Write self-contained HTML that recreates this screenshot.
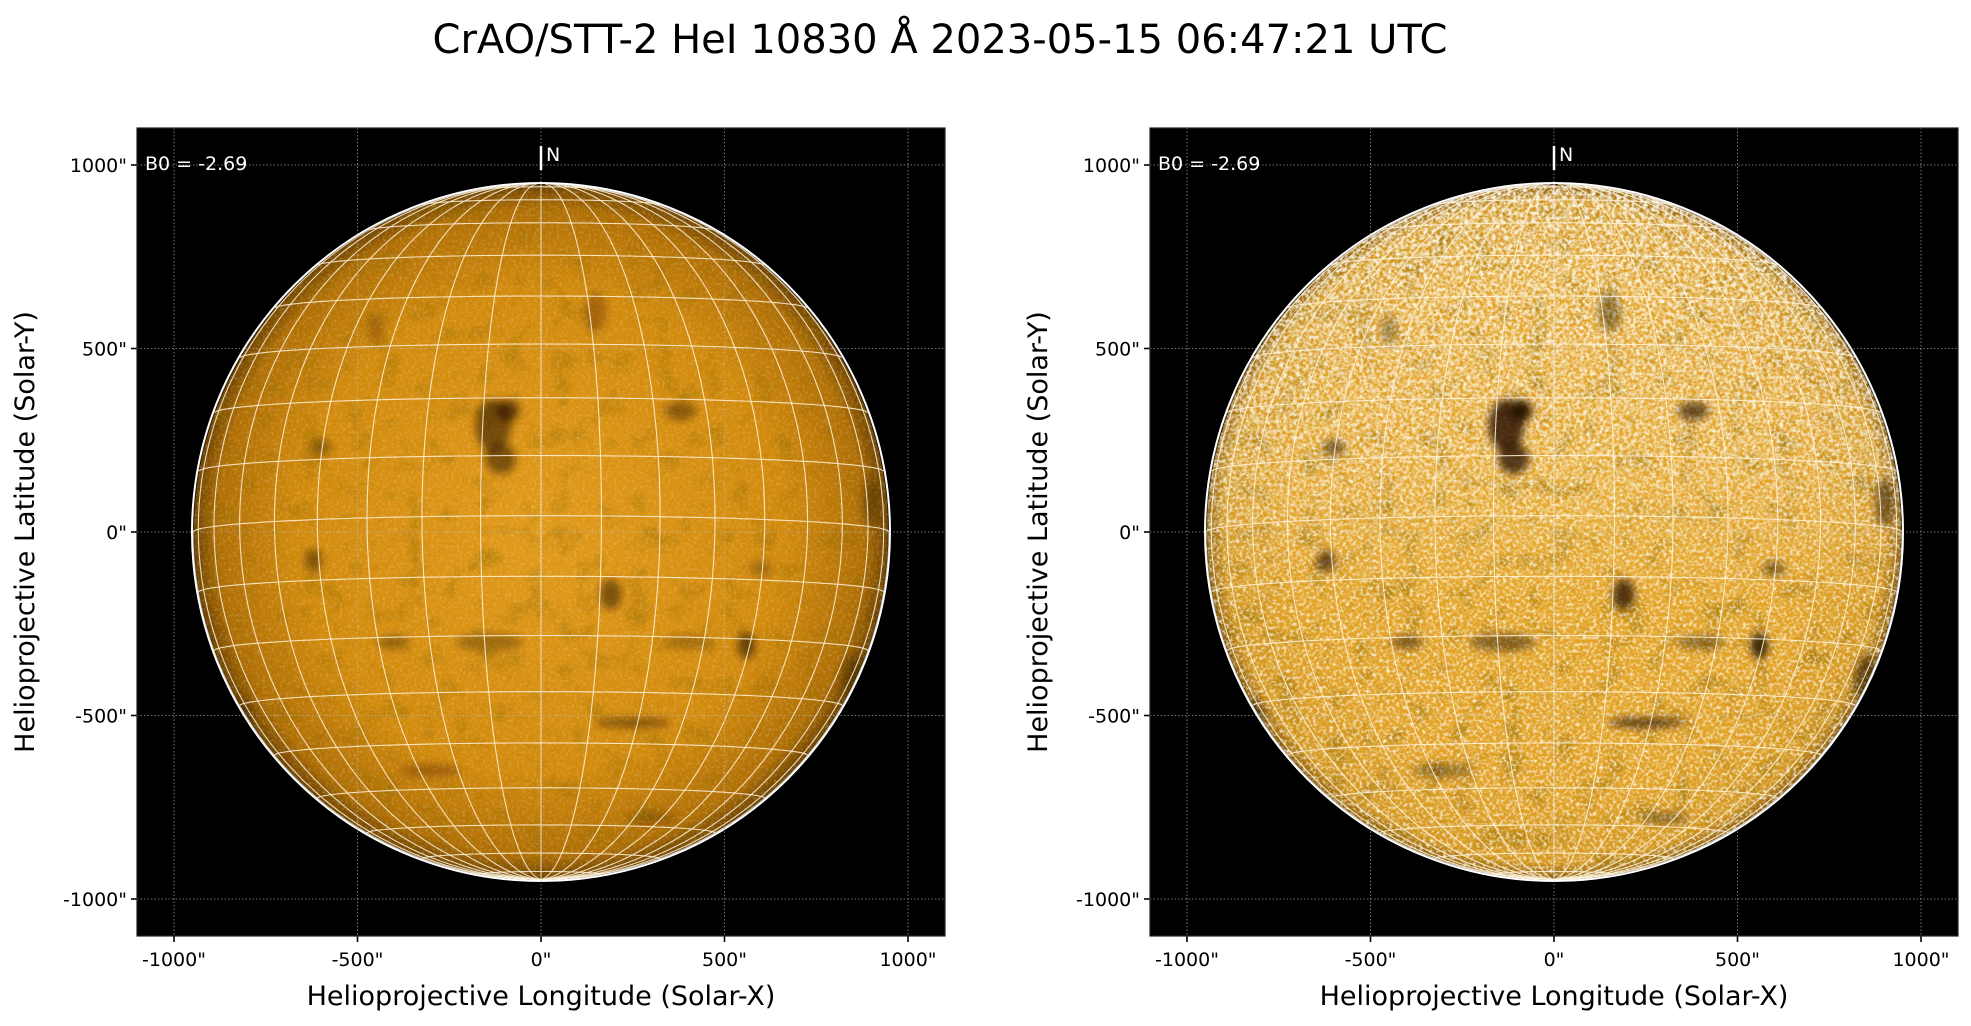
<!DOCTYPE html>
<html><head><meta charset="utf-8">
<style>
html,body{margin:0;padding:0;background:#fff;}
svg{display:block;}
text{font-family:"DejaVu Sans","Liberation Sans",sans-serif;}
</style></head>
<body>
<svg id="s" width="1971" height="1026" viewBox="0 0 1971 1026" xmlns="http://www.w3.org/2000/svg">
<defs>
<filter id="nz1" x="0" y="0" width="100%" height="100%">
 <feTurbulence type="fractalNoise" baseFrequency="0.35" numOctaves="2" seed="3"/>
 <feColorMatrix type="matrix" values="0 0 0 0 1  0 0 0 0 0.95  0 0 0 0 0.8  1.2 0 0 0 -0.55"/>
</filter>
<filter id="nz2" x="0" y="0" width="100%" height="100%">
 <feTurbulence type="fractalNoise" baseFrequency="0.3" numOctaves="3" seed="7"/>
 <feColorMatrix type="matrix" values="0 0 0 0 1  0 0 0 0 1  0 0 0 0 0.95  2.4 0 0 0 -1.05"/>
</filter>
<filter id="nz3" x="0" y="0" width="100%" height="100%">
 <feTurbulence type="fractalNoise" baseFrequency="0.25" numOctaves="3" seed="19"/>
 <feColorMatrix type="matrix" values="0 0 0 0 1  0 0 0 0 1  0 0 0 0 0.95  3 0 0 0 -1.2"/>
</filter>
<filter id="nzd" x="0" y="0" width="100%" height="100%">
 <feTurbulence type="fractalNoise" baseFrequency="0.04" numOctaves="3" seed="11"/>
 <feColorMatrix type="matrix" values="0 0 0 0 0.3  0 0 0 0 0.15  0 0 0 0 0  -2.2 0 0 0 1.05"/>
</filter>
<filter id="bl"><feGaussianBlur stdDeviation="4"/></filter>
<radialGradient id="g1" cx="0.5" cy="0.5" r="0.5">
 <stop offset="0" stop-color="#e19a1a"/><stop offset="0.7" stop-color="#d18a0c"/><stop offset="0.93" stop-color="#b06f05"/><stop offset="1" stop-color="#6a4000"/>
</radialGradient>
<radialGradient id="g2" cx="0.5" cy="0.5" r="0.5">
 <stop offset="0" stop-color="#e5a628"/><stop offset="0.75" stop-color="#e2a226"/><stop offset="0.95" stop-color="#d59820"/><stop offset="1" stop-color="#8a5a08"/>
</radialGradient>
<linearGradient id="topfade" x1="0" y1="0" x2="0" y2="1">
 <stop offset="0" stop-color="#fff" stop-opacity="1"/><stop offset="0.4" stop-color="#fff" stop-opacity="0.6"/><stop offset="0.6" stop-color="#fff" stop-opacity="0"/>
</linearGradient>
<mask id="m2"><rect x="1206" y="184" width="696" height="696" fill="url(#topfade)"/></mask>
<clipPath id="c1"><circle cx="541" cy="532" r="348"/></clipPath>
<clipPath id="c2"><circle cx="1554" cy="532" r="348"/></clipPath>
</defs>
<text x="940" y="53" font-size="40" text-anchor="middle" textLength="1015" lengthAdjust="spacingAndGlyphs">CrAO/STT-2 HeI 10830 Å 2023-05-15 06:47:21 UTC</text>
<g id="root"></g>
</svg>
<script>
const NS="http://www.w3.org/2000/svg";
const root=document.getElementById('root');
function el(t,a,p){const e=document.createElementNS(NS,t);for(const k in a)e.setAttribute(k,a[k]);(p||root).appendChild(e);return e;}
function txt(s,a,p){const e=el('text',a,p);e.textContent=s;return e;}
const B0=-2.69*Math.PI/180, R=348, S=0.367;
const blobs=[[-130,290,40,60,0.75],[-90,330,25,25,0.9],[-110,200,35,35,0.7],[380,330,35,20,0.6],[-600,230,25,18,0.5],[190,-170,25,35,0.7],[560,-310,20,30,0.8],[-620,-80,20,25,0.6],[250,-520,85,10,0.7],[-400,-300,35,15,0.5],[400,-300,55,15,0.4],[-140,-300,75,20,0.45],[900,80,20,55,0.5],[850,-400,25,55,0.5],[-820,-500,25,35,0.5],[-300,-650,70,15,0.35],[300,-780,55,12,0.4],[150,600,25,45,0.35],[-450,550,18,35,0.3],[600,-100,25,18,0.4]];
function panel(x0,cx,id,right){
 const y0=128,W=808,cy=532;
 el('rect',{x:x0,y:y0,width:W,height:W,fill:'#000'});
 const g=el('g',{'clip-path':`url(#c${id})`});
 el('circle',{cx,cy,r:R,fill:`url(#g${id})`},g);
 el('rect',{x:cx-R,y:cy-R,width:2*R,height:2*R,filter:'url(#nzd)',opacity:right?0.75:0.55},g);
 el('rect',{x:cx-R,y:cy-R,width:2*R,height:2*R,filter:`url(#nz${id})`,opacity:right?0.9:0.45},g);
 if(right){el('rect',{x:cx-R,y:cy-R,width:2*R,height:2*R,filter:'url(#nz3)',mask:'url(#m2)',opacity:0.9},g);}
 const bg=el('g',{filter:'url(#bl)'},g);
 for(const b of blobs){el('ellipse',{cx:cx+b[0]*S,cy:cy-b[1]*S,rx:b[2]*S*1.2,ry:b[3]*S*1.2,fill:'#2a1400',opacity:Math.min(1,b[4]*(right?1.1:0.75))},bg);}
 el('circle',{cx,cy,r:R+3,fill:'none',stroke:'#000',"stroke-width":8,opacity:0.6},g);
 const gs={fill:'none',stroke:'#fff3dd','stroke-width':1.1,opacity:0.85};
 function proj(lat,lon){const cl=Math.cos(lat);const x=cl*Math.sin(lon);const y=Math.sin(lat)*Math.cos(B0)-cl*Math.cos(lon)*Math.sin(B0);const z=Math.sin(lat)*Math.sin(B0)+cl*Math.cos(lon)*Math.cos(B0);return [cx+x*R,cy-y*R,z];}
 const gg=el('g',{'clip-path':`url(#c${id})`});
 for(let la=-80;la<=80;la+=10){let d='',pen=false;for(let lo=-90;lo<=90;lo+=2){const p=proj(la*Math.PI/180,lo*Math.PI/180);if(p[2]<0){pen=false;continue;}d+=(pen?'L':'M')+p[0].toFixed(1)+' '+p[1].toFixed(1);pen=true;}el('path',Object.assign({d},gs),gg);}
 for(let lo=-90;lo<=90;lo+=10){let d='',pen=false;for(let la=-90;la<=90;la+=2){const p=proj(la*Math.PI/180,lo*Math.PI/180);if(p[2]<0){pen=false;continue;}d+=(pen?'L':'M')+p[0].toFixed(1)+' '+p[1].toFixed(1);pen=true;}el('path',Object.assign({d},gs),gg);}
 el('circle',{cx,cy,r:R+1,fill:'none',stroke:'#fff','stroke-width':2});
 for(const v of [-1000,-500,0,500,1000]){
  const px=cx+v*S, py=cy-v*S;
  el('line',{x1:px,y1:y0,x2:px,y2:y0+W,stroke:'#bbb','stroke-width':0.8,'stroke-dasharray':'1.5 2',opacity:0.8});
  el('line',{x1:x0,y1:py,x2:x0+W,y2:py,stroke:'#bbb','stroke-width':0.8,'stroke-dasharray':'1.5 2',opacity:0.8});
  el('line',{x1:px,y1:y0+W,x2:px,y2:y0+W+6,stroke:'#000','stroke-width':1.6});
  el('line',{x1:x0-6,y1:py,x2:x0,y2:py,stroke:'#000','stroke-width':1.6});
  txt(v+'"',{x:px,y:y0+W+30,'font-size':19,'text-anchor':'middle'});
  txt(v+'"',{x:x0-10,y:py+7,'font-size':19,'text-anchor':'end'});
 }
 el('rect',{x:x0,y:y0,width:W,height:W,fill:'none',stroke:'#222','stroke-width':1.2});
 el('line',{x1:cx,y1:146,x2:cx,y2:170,stroke:'#fff','stroke-width':2.5});
 txt('N',{x:cx+5,y:161,'font-size':19,fill:'#fff'});
 txt('B0 = -2.69',{x:x0+8,y:170,'font-size':19,fill:'#fff'});
 txt('Helioprojective Longitude (Solar-X)',{x:x0+W/2,y:1005,'font-size':27,'text-anchor':'middle'});
 const lx=x0-103;
 txt('Helioprojective Latitude (Solar-Y)',{x:lx,y:532,'font-size':27,'text-anchor':'middle',transform:`rotate(-90 ${lx} 532)`});
}
panel(137,541,1,false);
panel(1150,1554,2,true);
</script>
</body></html>
